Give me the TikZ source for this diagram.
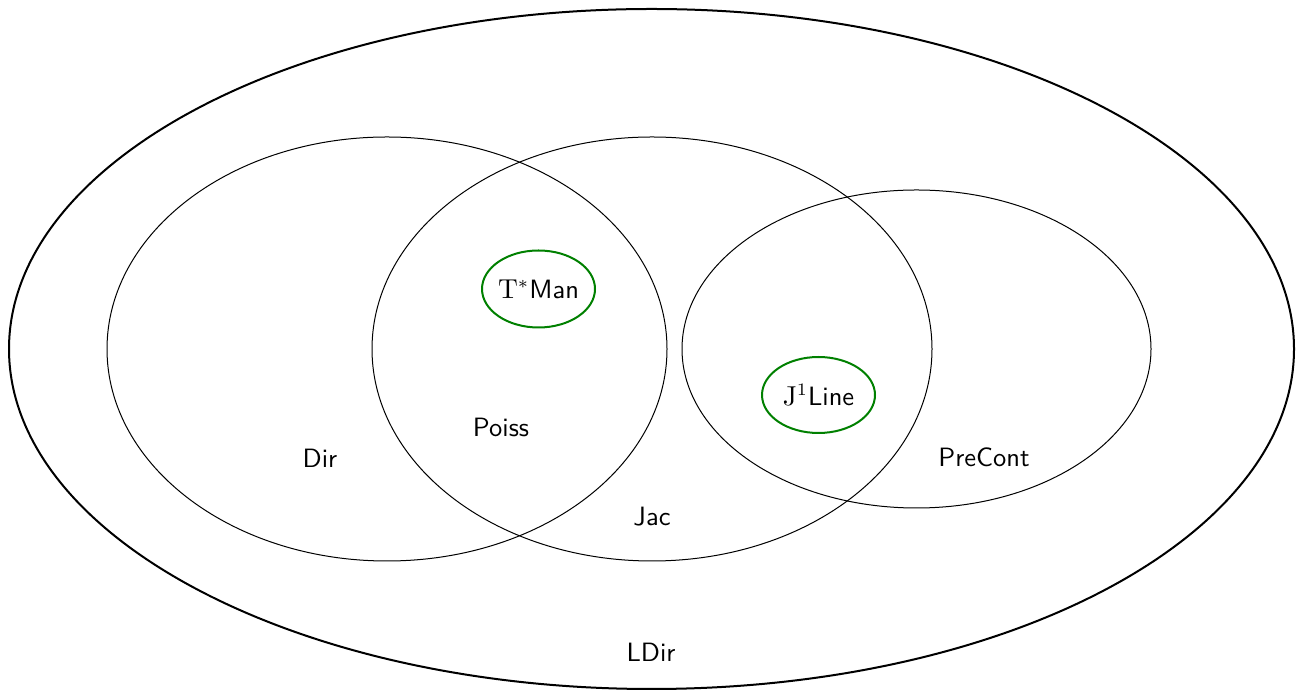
\documentclass[tikz,border=0pt]{standalone}
\begin{document}
\begin{tikzpicture}[x=0.4pt,y=-0.4pt,
  setline/.style={draw=black,line width=0.4pt},
  outerline/.style={draw=black,line width=0.8pt},
  greenline/.style={draw=green!50!black,line width=0.8pt},
  lbl/.style={font=\sffamily\fontsize{10.6}{12}\selectfont,inner sep=0pt}]
\useasboundingbox (0,0) rectangle (1299,690);
\coordinate (cl) at (651.5,349);
\coordinate (cd) at (387,349);
\coordinate (cj) at (652,349);
\coordinate (cp) at (916.5,349);
\coordinate (ct) at (538.5,289);
\coordinate (cline) at (818.5,395);
\draw[outerline] (cl) ellipse [x radius=642.5, y radius=340];
\draw[setline] (cd) ellipse [x radius=280, y radius=212];
\draw[setline] (cj) ellipse [x radius=280, y radius=212];
\draw[setline] (cp) ellipse [x radius=234.5, y radius=159];
\draw[greenline] (ct) ellipse [x radius=56.5, y radius=38.5];
\draw[greenline] (cline) ellipse [x radius=56.5, y radius=38];
\node[lbl] (tman) at (ct) {$\mathrm{T}^*$Man};
\node[lbl] (jline) at (cline) {$\mathrm{J}^1$Line};
\node[lbl] (dir) at (320,458) {Dir};
\node[lbl] (poiss) at (501,427) {Poiss};
\node[lbl] (jac) at (652,517) {Jac};
\node[lbl] (precont) at (984,457) {PreCont};
\node[lbl] (ldir) at (651,652) {LDir};
\end{tikzpicture}
\end{document}
